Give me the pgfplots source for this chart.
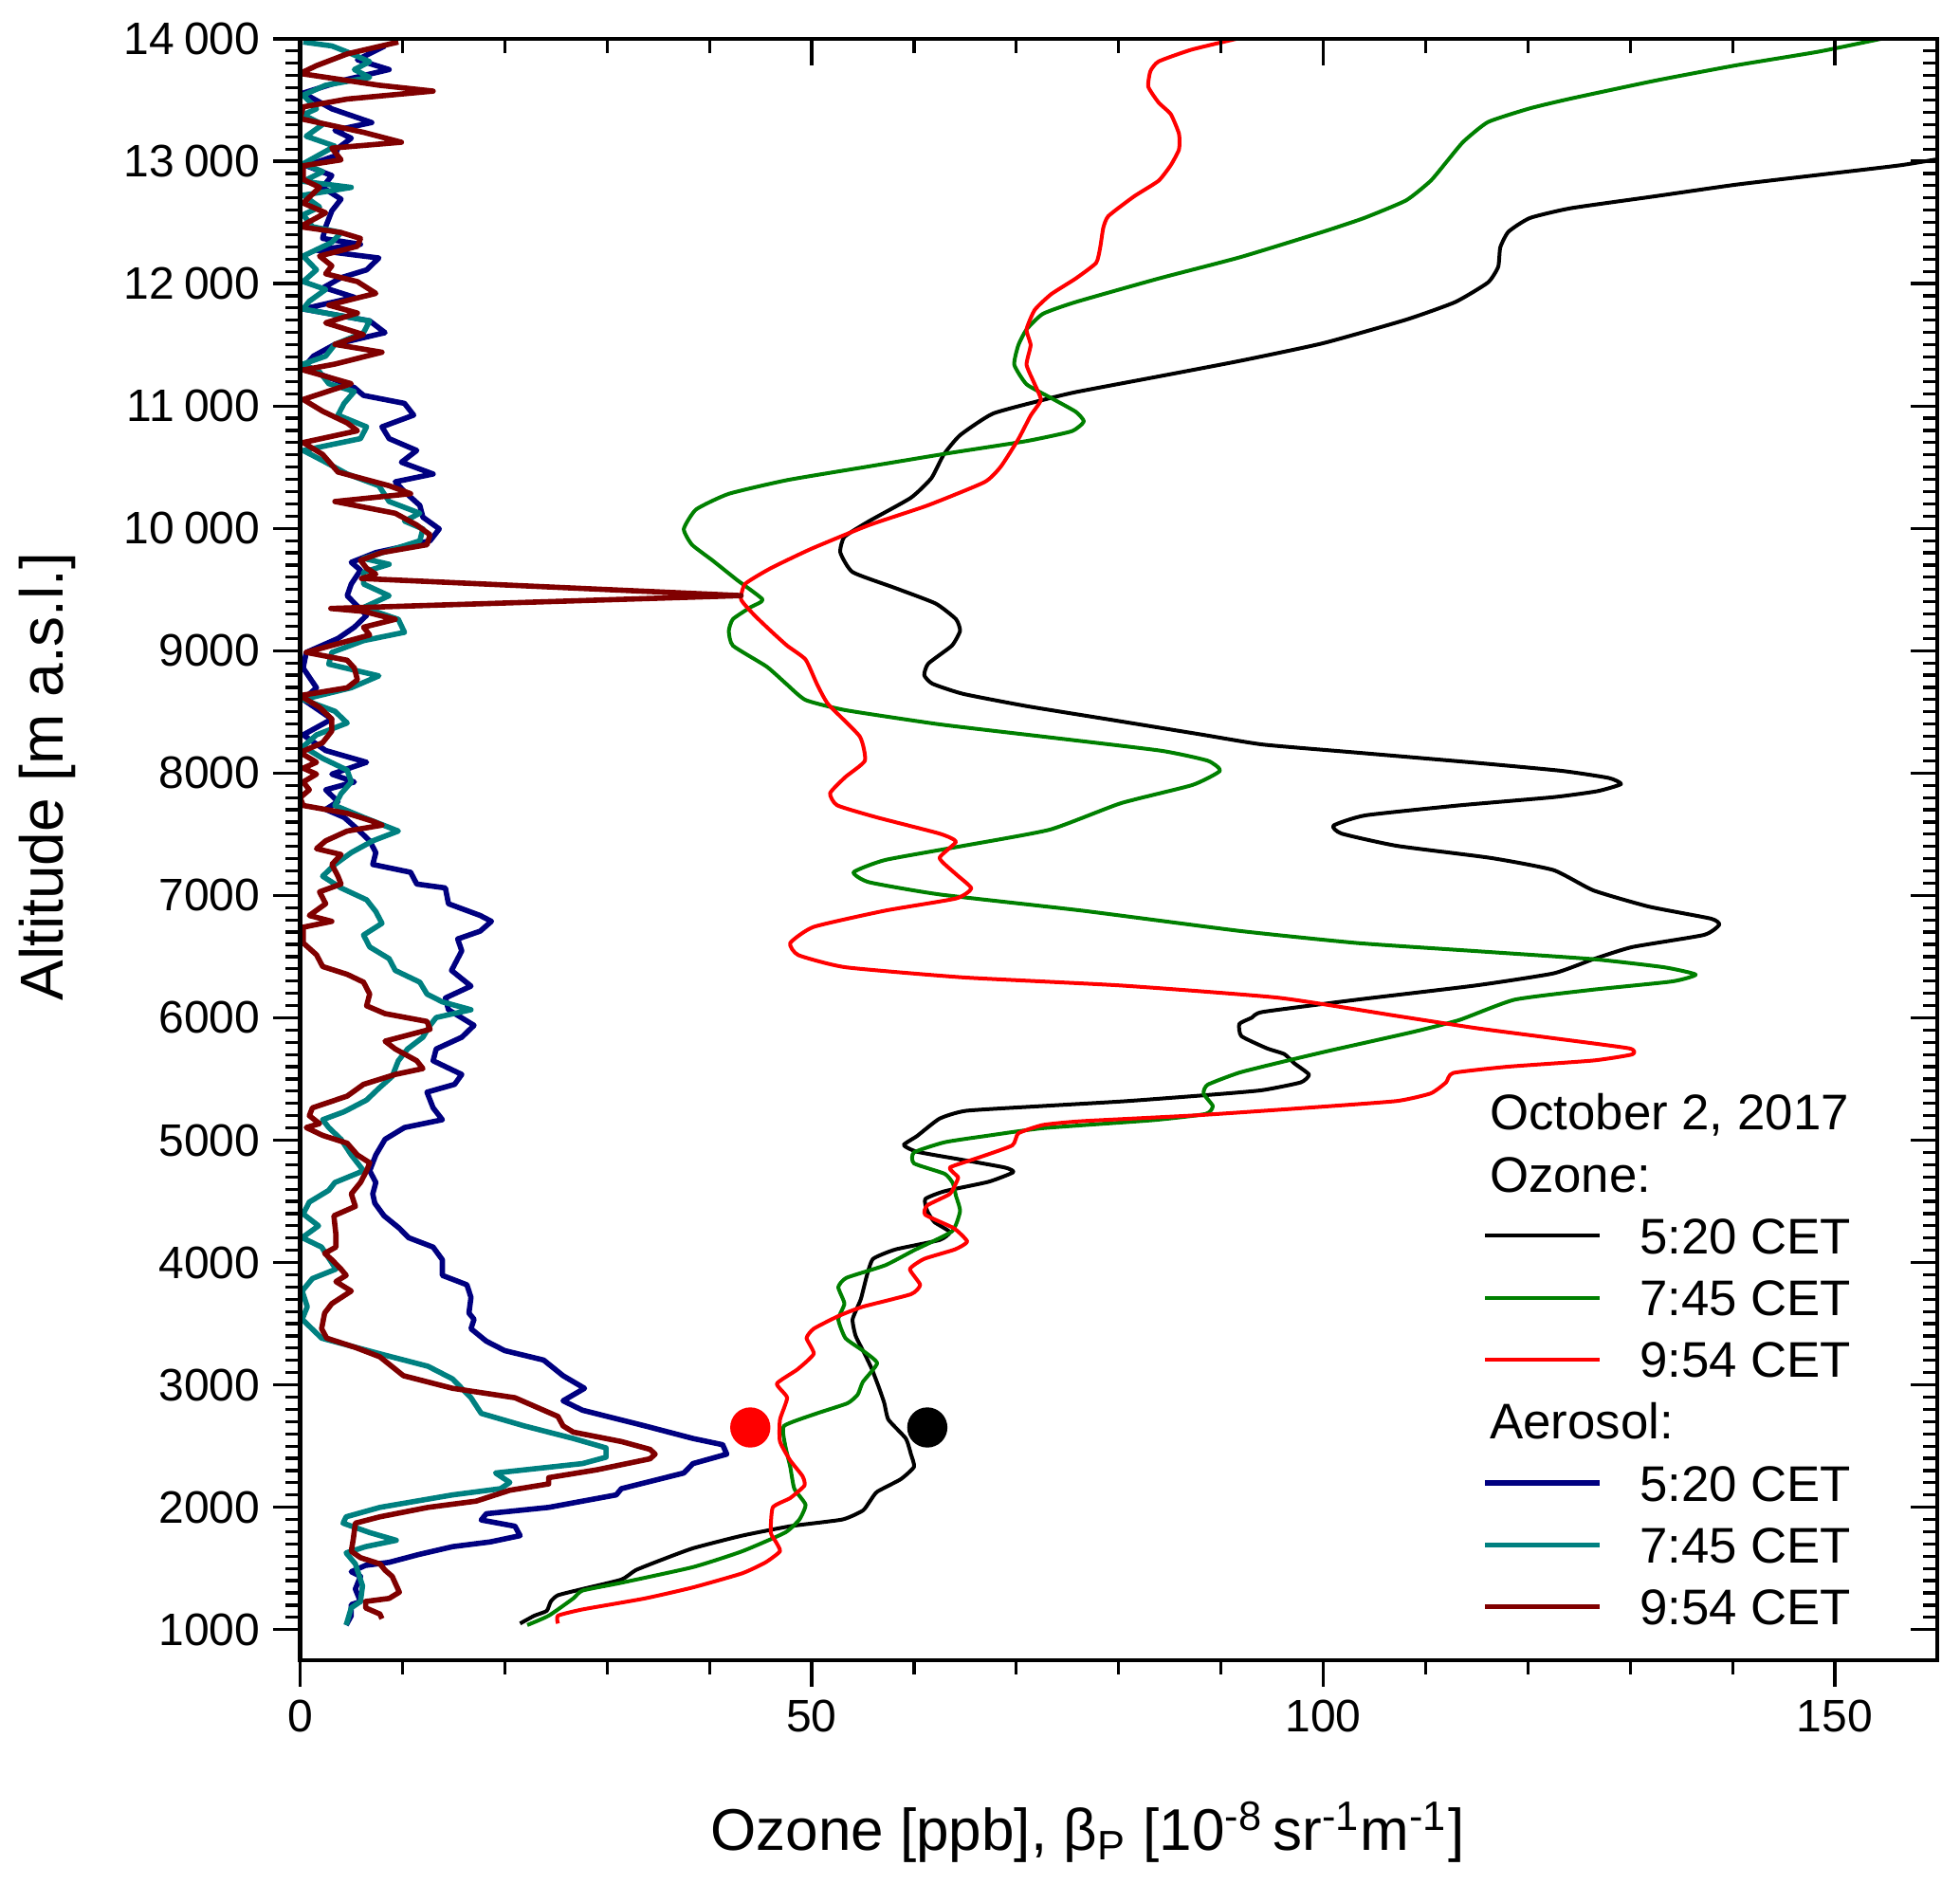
\documentclass[border=0pt]{standalone}
\usepackage{fontspec}
\setmainfont{Liberation Sans}
\usepackage{pgfplots}
\pgfplotsset{compat=1.18}
\definecolor{ozgreen}{RGB}{0,128,0}
\definecolor{aenavy}{RGB}{0,0,128}
\definecolor{aeteal}{RGB}{0,128,128}
\definecolor{aewine}{RGB}{128,0,0}
\pgfplotsset{
  common/.style={
    scale only axis, width=431.6pt, height=427.5pt,
    at={(0pt,0pt)}, anchor=south west,
    xmin=0, xmax=160, ymin=750, ymax=14000,
    xtick={0,50,100,150}, minor x tick num=4,
    ytick={1000,2000,...,14000}, minor y tick num=9,
    scaled x ticks=false, scaled y ticks=false,
    major tick length=7pt, minor tick length=3.75pt,
    axis line style={line width=1.2pt},
    every tick/.style={line width=0.8pt, black},
    /pgf/number format/assume math mode=true,
    /pgf/number format/1000 sep={\hspace{0.22em}},
    /pgf/number format/min exponent for 1000 sep=4,
    ticklabel style={font=\fontsize{12}{14}\selectfont},
  }
}
\newcommand{\hdr}[1]{\makebox[0pt][l]{\hspace*{-40pt}#1}}
\begin{document}
\begin{tikzpicture}
\begin{axis}[common,
  xtick pos=left, ytick pos=left, tick align=outside,
  every axis x label/.style={at={(axis description cs:0.481,-0.1175)}, anchor=base},
  every axis y label/.style={at={(axis description cs:-0.1446,0.545)}, rotate=90, anchor=base},
  xlabel style={font=\fontsize{15.5}{18}\selectfont},
  ylabel style={font=\fontsize{16}{19}\selectfont},
  xlabel={Ozone [ppb], β\textsubscript{P} [10\textsuperscript{-8}\,sr\textsuperscript{-1}m\textsuperscript{-1}]},
  ylabel={Altitude [m a.s.l.]},
  legend cell align=left,
  legend image code/.code={\draw[#1] (0pt,1.2pt) -- (30.25pt,1.2pt); \path (40pt,0pt);},
  legend style={at={(axis cs:115.5,5383)}, anchor=north west, draw=none, fill=none,
    inner sep=0pt, row sep=4.3pt,
    nodes={inner sep=0pt, text height=9.5pt, text depth=2.5pt, font=\fontsize{13.2}{15}\selectfont}},
  line join=round,
]
\addlegendimage{empty legend}\addlegendentry{\hdr{October 2, 2017}}
\addlegendimage{empty legend}\addlegendentry{\hdr{Ozone:}}
% Ozone 5:20
\addplot[black, line width=1pt, smooth, tension=0.3] table {
x y
21.5 1050
22.9 1114
24.1 1153
24.5 1230
25.2 1281
27.6 1332
31.4 1409
32.8 1486
35.1 1563
38.4 1665
43.2 1768
47.9 1845
53.0 1900
55.0 1973
55.7 2050
56.4 2127
58.7 2229
60.0 2330
59.7 2434
59.2 2562
57.5 2716
57.1 2850
56.6 2972
55.9 3126
55.2 3250
54.3 3400
54.0 3536
54.8 3700
55.4 3895
56.0 4030
58.2 4107
62.5 4184
63.5 4249
62.0 4330
61.3 4420
61.1 4519
63.0 4583
67.3 4660
69.7 4738
68.9 4776
64.6 4841
60.3 4905
59.0 4960
60.3 5034
62.5 5176
65.1 5240
72.6 5279
80.6 5318
88.7 5369
94.0 5408
97.8 5472
98.6 5536
97.2 5626
96.2 5703
94.5 5750
92.0 5850
91.8 5950
93.0 6000
94.1 6048
103.3 6148
114.9 6264
122.5 6363
126.4 6479
130.2 6578
137.2 6677
138.7 6760
137.9 6810
131.8 6909
126.4 7041
122.5 7207
116.4 7306
107.2 7405
101.8 7505
101.0 7571
104.1 7654
113.3 7736
122.5 7803
126.8 7852
129.1 7910
127.9 7960
123.3 8018
114.9 8084
103.3 8167
94.1 8233
88.0 8316
79.5 8432
71.0 8547
64.8 8647
61.8 8730
61.0 8800
61.4 8895
63.7 9041
64.5 9162
64.1 9258
62.1 9386
58.1 9514
54.0 9642
52.8 9802
53.2 9930
55.6 10058
59.7 10250
61.7 10410
62.9 10602
64.5 10761
67.7 10937
72.6 11049
75.8 11113
83.9 11241
91.9 11369
100.0 11513
108.1 11705
112.9 11849
116.1 12009
117.1 12137
117.3 12296
118.1 12424
120.2 12536
124.2 12616
132.3 12712
140.3 12808
148.4 12888
156.5 12968
162.0 13045
};
\addlegendentry{5:20 CET}
% Ozone 7:45
\addplot[ozgreen, line width=1pt, smooth, tension=0.3] table {
x y
22.2 1037
24.3 1114
26.7 1255
27.6 1319
31.4 1383
38.4 1511
43.2 1640
47.4 1793
48.8 1900
49.4 2021
48.3 2152
47.9 2332
47.4 2511
47.3 2665
50.5 2767
53.5 2850
54.5 2921
55.0 3024
56.4 3177
55.0 3280
53.3 3382
52.6 3536
53.2 3664
52.6 3798
53.4 3875
57.2 3978
60.0 4100
63.7 4254
64.5 4420
64.1 4545
63.8 4648
63.0 4725
60.0 4810
60.0 4900
63.0 4983
67.0 5034
72.6 5098
83.3 5163
88.5 5214
89.2 5279
88.3 5380
88.7 5453
91.8 5552
96.0 5640
100.5 5729
108.7 5883
113.3 5982
118.7 6148
126.4 6230
134.1 6297
136.4 6353
133.3 6413
126.4 6479
114.9 6545
103.3 6611
91.8 6710
76.4 6876
62.5 7008
55.6 7108
54.1 7190
57.2 7290
64.8 7405
73.3 7538
80.2 7753
87.2 7902
89.9 8018
88.7 8101
84.1 8183
72.5 8299
62.5 8398
53.3 8514
49.4 8597
47.5 8730
45.6 8870
42.3 9041
41.9 9162
42.3 9258
44.0 9354
45.2 9418
42.7 9578
40.3 9738
38.3 9866
37.5 9994
38.7 10154
41.9 10282
47.6 10394
55.6 10506
63.7 10618
71.0 10713
75.4 10793
76.6 10873
75.8 10953
73.4 11065
71.0 11177
69.8 11337
70.2 11497
71.0 11625
72.6 11753
75.8 11849
83.9 12041
91.9 12216
100.0 12424
104.0 12536
108.1 12680
110.5 12840
112.1 13000
113.7 13160
116.1 13320
120.2 13432
124.2 13512
132.3 13656
140.3 13783
148.4 13895
154.5 14000
};
\addlegendentry{7:45 CET}
% Ozone 9:54
\addplot[red, line width=1pt, smooth, tension=0.3] table {
x y
25.2 1050
25.2 1114
27.6 1165
33.7 1255
38.4 1345
43.2 1460
45.5 1550
46.9 1640
46.5 1717
46.0 1793
46.2 1999
47.9 2075
49.3 2178
49.1 2255
47.9 2383
46.9 2537
46.9 2716
47.6 2895
46.6 3010
48.6 3126
50.2 3254
49.5 3382
50.2 3459
52.6 3562
55.0 3639
59.7 3741
60.6 3818
59.6 3946
61.0 4030
64.0 4107
65.2 4171
63.9 4280
61.1 4390
61.3 4467
63.5 4560
64.1 4648
64.3 4699
63.5 4776
66.2 4854
69.6 4957
70.2 5056
72.6 5124
76.4 5155
88.0 5205
99.5 5271
107.2 5320
110.5 5382
112.0 5472
112.7 5549
118.0 5600
126.4 5651
130.2 5701
129.9 5750
122.5 5833
114.9 5916
107.2 6015
95.6 6164
80.2 6264
64.8 6330
53.3 6413
48.7 6512
47.9 6611
50.2 6743
57.2 6876
64.1 6975
65.6 7058
64.1 7174
62.5 7306
64.1 7439
62.5 7505
56.4 7637
52.5 7736
51.8 7836
53.3 7968
55.2 8101
54.7 8299
51.6 8564
50.5 8730
49.4 8928
47.6 9041
46.0 9162
44.4 9290
43.1 9418
43.5 9546
46.0 9674
50.0 9834
55.6 10026
61.3 10186
66.9 10378
68.5 10506
70.2 10729
71.4 10921
72.4 11049
71.8 11177
71.0 11337
71.4 11497
71.0 11625
71.8 11785
73.4 11913
75.8 12041
77.8 12169
78.2 12296
78.5 12456
79.0 12552
81.5 12712
83.9 12840
85.1 12968
85.9 13096
85.9 13224
85.1 13384
83.9 13480
82.9 13608
83.1 13735
83.9 13815
87.1 13911
91.5 14000
};
\addlegendentry{9:54 CET}
\addlegendimage{empty legend}\addlegendentry{\hdr{Aerosol:}}
% Aerosol 5:20
\addplot[aenavy, line width=1.4pt] table {
x y
8.3 13942
5.6 13829
8.7 13749
4.6 13669
0.3 13557
3.1 13428
7.0 13316
3.4 13252
5.0 13188
3.7 13107
3.4 13043
0.6 12963
3.1 12883
2.2 12786
4.0 12690
3.1 12594
2.5 12465
2.2 12369
5.9 12321
1.6 12273
7.7 12209
6.5 12112
4.0 12048
2.3 11968
5.3 11888
0.3 11792
6.8 11695
8.3 11599
3.4 11503
1.3 11407
0.3 11310
3.4 11214
5.3 11150
6.2 11086
10.2 11021
11.1 10925
8.0 10829
8.7 10733
11.4 10636
9.9 10540
13.0 10444
9.3 10380
10.2 10300
11.7 10187
12.0 10091
13.6 9995
12.7 9898
7.4 9802
5.0 9722
5.9 9658
5.0 9545
4.6 9449
6.5 9289
5.3 9192
3.7 9100
0.6 8986
0.3 8858
1.6 8697
0.3 8601
3.1 8441
0.3 8312
2.5 8184
6.5 8088
3.1 7991
5.3 7927
2.5 7863
3.7 7767
2.5 7703
4.3 7638
5.6 7542
6.8 7446
7.4 7350
7.1 7253
10.8 7189
11.4 7093
14.2 7061
14.5 6932
17.6 6836
18.7 6788
17.6 6708
15.4 6644
15.8 6547
14.8 6387
16.7 6259
14.2 6162
14.5 6066
17.0 5938
15.8 5841
13.3 5745
13.0 5649
15.8 5537
15.1 5456
12.4 5392
13.0 5264
13.9 5167
10.2 5103
8.3 5007
7.4 4879
6.8 4750
7.4 4654
7.1 4561
7.3 4485
8.2 4382
9.7 4280
10.6 4203
13.0 4126
13.9 4023
13.9 3895
16.3 3818
16.7 3715
16.5 3587
17.0 3536
16.7 3459
18.2 3357
20.0 3280
23.8 3203
25.7 3075
27.8 2972
25.7 2870
27.6 2793
33.7 2665
38.4 2562
41.3 2511
41.7 2434
38.4 2357
37.5 2280
31.4 2152
30.9 2101
24.3 1999
18.2 1947
17.7 1896
21.0 1845
21.5 1768
18.6 1717
14.9 1678
11.6 1614
8.7 1550
6.4 1525
5.0 1473
5.9 1435
5.4 1332
5.9 1230
5.0 1204
5.0 1114
4.5 1037
};
\addlegendentry{5:20 CET}
% Aerosol 7:45
\addplot[aeteal, line width=1.4pt] table {
x y
0.3 13974
3.1 13942
4.6 13893
6.8 13813
5.3 13749
6.8 13685
2.5 13621
0.3 13540
1.6 13428
0.3 13380
2.2 13300
0.6 13204
3.4 13123
0.3 12979
2.2 12915
0.3 12835
5.0 12786
0.3 12722
1.9 12626
0.3 12562
1.2 12465
4.0 12417
3.1 12337
0.3 12225
1.6 12112
0.3 12016
2.5 11952
0.9 11856
0.3 11792
6.8 11695
6.2 11599
3.4 11503
2.5 11407
0.3 11342
1.9 11278
2.8 11182
5.3 11118
4.3 11021
3.7 10925
6.5 10829
5.9 10733
0.3 10636
2.5 10540
4.6 10444
7.7 10348
8.7 10219
11.7 10123
10.2 10059
12.0 9995
11.7 9898
8.7 9818
6.2 9754
8.7 9706
6.2 9642
6.2 9545
8.7 9449
6.2 9353
9.6 9256
10.2 9150
6.2 9082
3.1 8986
2.8 8890
7.7 8794
5.0 8697
0.3 8601
3.4 8505
4.6 8409
1.6 8312
0.3 8216
2.2 8120
4.6 8024
5.0 7927
4.0 7831
3.4 7735
6.2 7638
9.6 7526
7.1 7446
5.0 7350
3.4 7253
2.2 7157
4.0 7061
6.5 6964
7.4 6868
8.0 6772
6.2 6676
6.8 6579
8.7 6483
9.3 6387
11.7 6291
12.4 6194
13.9 6130
16.7 6066
13.3 6002
12.7 5938
12.0 5841
10.5 5745
9.6 5649
9.0 5521
7.7 5424
6.5 5328
4.3 5232
2.2 5167
2.8 5103
4.0 5007
5.0 4879
6.2 4750
3.4 4654
2.8 4590
0.9 4494
0.3 4397
1.8 4300
0.2 4203
2.1 4126
3.5 3946
1.2 3869
0.2 3767
0.7 3639
0.2 3536
2.1 3382
7.8 3254
12.5 3152
14.9 3049
16.7 2895
17.7 2767
21.9 2665
26.7 2562
29.9 2485
29.9 2409
27.6 2357
19.1 2280
20.5 2203
19.6 2152
14.9 2101
7.8 1999
4.5 1922
4.2 1870
6.8 1793
9.4 1730
6.4 1678
4.5 1627
5.4 1537
6.1 1358
5.9 1230
5.0 1178
4.5 1037
};
\addlegendentry{7:45 CET}
% Aerosol 9:54
\addplot[aewine, line width=1.4pt] table {
x y
9.6 13974
4.6 13877
1.6 13781
0.0 13717
7.7 13621
13.0 13573
4.6 13508
0.3 13444
0.0 13348
6.2 13236
9.9 13155
3.1 13107
4.0 13011
0.3 12963
0.3 12851
1.9 12786
0.3 12658
2.5 12578
0.0 12465
4.0 12417
5.9 12369
5.6 12305
1.9 12225
3.1 12145
2.5 12080
5.6 12016
7.4 11920
2.8 11824
5.6 11759
2.5 11679
6.2 11583
3.4 11503
8.0 11439
3.4 11342
0.3 11294
5.0 11182
0.3 11053
2.2 10957
4.6 10861
5.6 10797
0.3 10701
2.2 10604
3.7 10460
8.7 10348
10.8 10283
3.4 10219
9.3 10123
11.4 10027
12.7 9947
12.4 9866
8.0 9802
5.9 9738
6.5 9674
7.4 9626
6.0 9590
43.1 9450
3.0 9345
6.2 9321
9.3 9256
6.2 9192
6.8 9128
3.4 9050
0.6 8986
4.6 8922
5.3 8858
5.6 8762
4.6 8697
0.0 8633
1.9 8537
3.1 8441
3.1 8344
2.2 8248
0.0 8168
1.6 8088
0.3 8040
1.6 7991
0.3 7927
0.9 7863
0.0 7799
0.3 7735
4.6 7671
7.1 7606
8.0 7574
4.6 7526
2.5 7446
1.6 7382
4.0 7334
3.1 7253
3.7 7157
4.0 7093
1.9 7029
2.5 6932
0.9 6836
3.1 6788
0.3 6740
0.3 6612
1.6 6515
2.2 6419
4.6 6355
6.2 6291
6.8 6194
6.5 6098
8.3 6034
12.4 5970
12.7 5906
8.3 5809
9.3 5745
11.4 5649
12.0 5585
9.3 5537
6.2 5456
4.6 5360
1.2 5264
0.9 5200
1.9 5135
0.6 5103
2.2 5039
4.6 4975
5.6 4879
6.8 4815
6.5 4750
5.9 4654
5.0 4561
5.4 4459
3.3 4382
3.5 4228
3.5 4126
2.4 4075
3.1 4023
4.0 3946
4.5 3895
3.5 3844
5.0 3767
3.1 3664
2.4 3587
2.1 3459
2.6 3382
5.4 3306
7.8 3229
10.1 3075
14.9 2972
21.0 2895
22.4 2844
25.2 2742
25.7 2665
26.7 2614
31.4 2537
34.2 2473
34.7 2434
34.2 2396
29.0 2306
24.3 2242
24.3 2191
20.5 2139
17.2 2050
12.5 1999
7.8 1922
5.4 1870
5.2 1742
5.0 1640
5.9 1588
7.8 1537
8.3 1486
9.0 1435
9.7 1306
8.7 1255
6.4 1230
6.4 1178
7.8 1127
8.0 1089
};
\addlegendentry{9:54 CET}
\addplot[only marks, mark=*, mark size=5.1pt, red, forget plot] coordinates {(44.0,2652)};
\addplot[only marks, mark=*, mark size=5.1pt, black, forget plot] coordinates {(61.3,2652)};
\end{axis}
\begin{axis}[common,
  xtick pos=right, ytick pos=right, tick align=inside,
  xticklabels={}, yticklabels={},
]
\end{axis}
\pgfresetboundingbox
\path[use as bounding box] (-79.125pt,-59pt) rectangle (437.625pt,437.75pt);
\end{tikzpicture}
\end{document}
